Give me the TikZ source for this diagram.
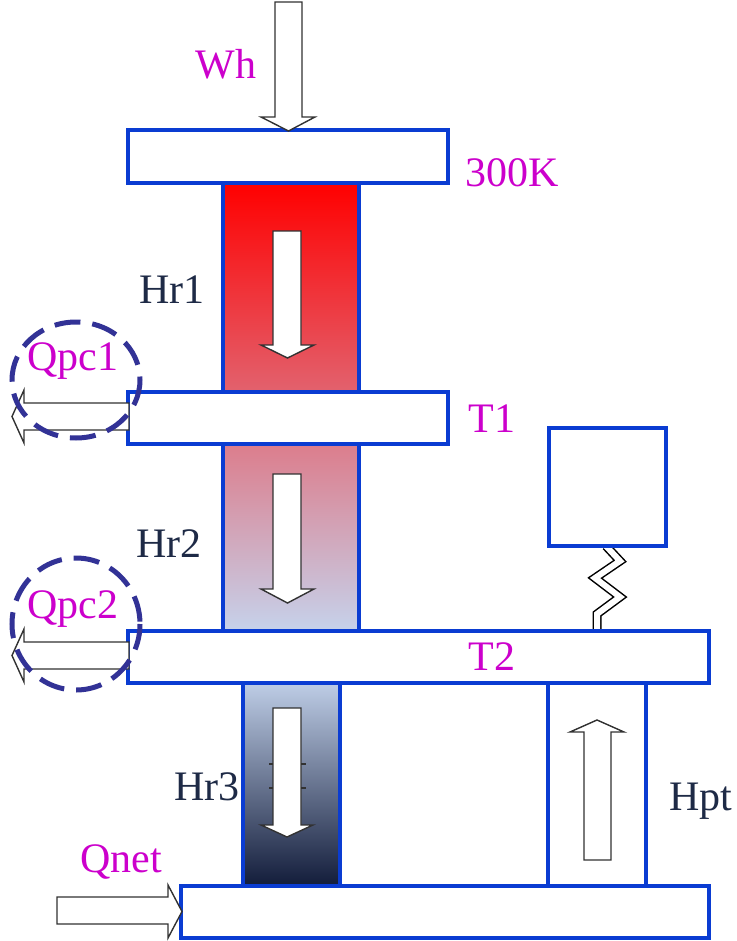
\documentclass[tikz,border=0pt]{standalone}
\usepackage{fontspec}
\setmainfont{Liberation Serif}
\begin{document}
\begin{tikzpicture}[x=1pt,y=-1pt,
  plate/.style={draw=stageblue,line width=3.5pt,fill=white,inner sep=0pt,rectangle},
  column/.style={draw=stageblue,line width=3.5pt,inner sep=0pt,rectangle},
  blockarrow/.style={draw=arrowgray,line width=1.4pt,fill=white,line join=miter},
  magtext/.style={text=labelmagenta,font=\fontsize{42pt}{48pt}\selectfont,inner sep=0pt,anchor=base},
  navytext/.style={text=labelnavy,font=\fontsize{42pt}{48pt}\selectfont,inner sep=0pt,anchor=base},
  pcring/.style={draw=ringblue,line width=5pt,dash pattern=on 26pt off 12pt}
]
\definecolor{stageblue}{RGB}{10,60,210}
\definecolor{arrowgray}{RGB}{50,50,50}
\definecolor{labelmagenta}{RGB}{204,0,204}
\definecolor{labelnavy}{RGB}{30,42,70}
\definecolor{ringblue}{RGB}{50,50,150}
\definecolor{hotred}{RGB}{255,0,0}
\definecolor{warmpink}{RGB}{226,98,110}
\definecolor{mauve}{RGB}{220,125,140}
\definecolor{paleblue}{RGB}{198,210,235}
\definecolor{lightsteel}{RGB}{190,205,230}
\definecolor{deepnavy}{RGB}{18,28,58}

\useasboundingbox (0,0) rectangle (736,941);
\fill[white] (0,0) rectangle (736,941);

% regenerator columns with temperature gradients
\node[column,top color=hotred,bottom color=warmpink,minimum width=136pt,minimum height=209pt] (c1) at (291,287.5) {};
\node[column,top color=mauve,bottom color=paleblue,minimum width=136pt,minimum height=187pt] (c2) at (291,537.5) {};
\node[column,top color=lightsteel,bottom color=deepnavy,minimum width=97pt,minimum height=203pt] (c3) at (291.5,784.5) {};
% pulse tube
\node[column,fill=white,minimum width=98pt,minimum height=203pt] (hpt) at (597,784.5) {};

% inertance link between reservoir and T2 stage
\draw[black,line width=9pt,line join=miter,miter limit=10]
  (606,546) -- (620,561) -- (595,578) -- (620,597) -- (597,614) -- (597,631);
\draw[white,line width=6pt,line join=miter,miter limit=10]
  (606,546) -- (620,561) -- (595,578) -- (620,597) -- (597,614) -- (597,630);

% stages
\node[plate,minimum width=320pt,minimum height=53pt] (p300) at (288,156.5) {};
\node[plate,minimum width=320pt,minimum height=52pt] (pT1) at (288,418) {};
\node[plate,minimum width=581pt,minimum height=52pt] (pT2) at (418.5,657) {};
\node[plate,minimum width=528pt,minimum height=52pt] (pbot) at (445,912) {};
% reservoir
\node[plate,minimum width=117pt,minimum height=118pt] (res) at (607.5,487) {};

% heat and work flow arrows
\draw[blockarrow] (275,2) -- (302,2) -- (302,117) -- (315,117) -- (288.5,131) -- (261,117) -- (275,117) -- cycle;
\draw[blockarrow] (273,231) -- (301,231) -- (301,345) -- (314,345) -- (287.5,358) -- (261,345) -- (273,345) -- cycle;
\draw[blockarrow] (273,474) -- (301,474) -- (301,589) -- (314,589) -- (287.5,603) -- (261,589) -- (273,589) -- cycle;
\draw[blockarrow] (273,708) -- (301,708) -- (301,825) -- (313,825) -- (287,837) -- (261,825) -- (273,825) -- cycle;
\draw[arrowgray,line width=1.2pt] (269,764) -- (273,764) (301,764) -- (306,764)
  (269,788) -- (273,788) (301,788) -- (306,788);
\draw[blockarrow] (584,860) -- (611,860) -- (611,732) -- (624,732) -- (597,720) -- (570,732) -- (584,732) -- cycle;
\draw[blockarrow] (129,403) -- (129,430) -- (24,430) -- (24,443) -- (12,416.5) -- (24,390) -- (24,403) -- cycle;
\draw[blockarrow] (129,642) -- (129,669) -- (24,669) -- (24,682) -- (12,655.5) -- (24,629) -- (24,642) -- cycle;
\draw[blockarrow] (57,897) -- (168,897) -- (168,885) -- (182,911.5) -- (168,938) -- (168,924) -- (57,924) -- cycle;

% labels
\node[magtext] (lwh) at (226,79) {Wh};
\node[magtext] (l300) at (512,187) {300K};
\node[magtext] (lt1) at (492,432) {T1};
\node[magtext] (lt2) at (492,670) {T2};
\node[magtext] (lq1) at (73,370) {Qpc1};
\node[magtext] (lq2) at (73,618) {Qpc2};
\node[magtext] (lqn) at (121,872) {Qnet};
\node[navytext] (lh1) at (172,303) {Hr1};
\node[navytext] (lh2) at (169,557) {Hr2};
\node[navytext] (lh3) at (207,800) {Hr3};
\node[navytext] (lhp) at (701,810) {Hpt};

% precooling heat rings
\draw[pcring] (76,380) ellipse [x radius=64, y radius=58];
\draw[pcring] (76,624) ellipse [x radius=64, y radius=66];
\end{tikzpicture}
\end{document}
